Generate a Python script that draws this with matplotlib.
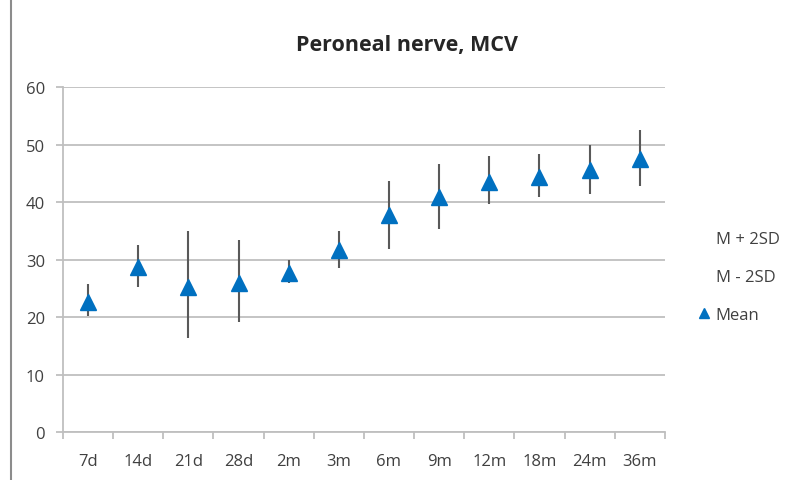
import numpy as np
import matplotlib.pyplot as plt
from matplotlib.lines import Line2D
from matplotlib.patches import Rectangle

plt.rcParams['font.family'] = ['Open Sans', 'DejaVu Sans']

# data
categories = ['7d', '14d', '21d', '28d', '2m', '3m', '6m', '9m', '12m', '18m', '24m', '36m']
mean = [22.7, 28.7, 25.3, 26.0, 27.6, 31.7, 37.7, 40.9, 43.5, 44.3, 45.5, 47.5]
upper = [25.7, 32.5, 34.9, 33.4, 30.0, 35.0, 43.7, 46.6, 48.1, 48.3, 49.9, 52.6]
lower = [20.2, 25.2, 16.3, 19.1, 25.9, 28.6, 31.8, 35.4, 39.7, 40.8, 41.4, 42.8]

fig = plt.figure(figsize=(7.94, 4.81), dpi=100)
ax = fig.add_axes([0.0793, 0.0998, 0.758, 0.717])

x = np.arange(len(categories)) + 0.5

# high-low lines (M-2SD .. M+2SD)
ax.vlines(x, lower, upper, color='#595959', lw=1.5, zorder=2)
ax.plot(x, mean, linestyle='none', marker='^', markersize=11,
        color='#0070C0', zorder=3)

ax.set_xlim(0, len(categories))
ax.set_ylim(0, 60)
ax.set_yticks(np.arange(0, 61, 10))
ax.yaxis.grid(True, color='#bfbfbf', lw=1.3)
ax.set_axisbelow(True)

ax.set_xticks(np.arange(0, len(categories) + 1))
ax.set_xticklabels([])
ax.set_xticks(x, minor=True)
ax.set_xticklabels(categories, minor=True)
ax.tick_params(axis='x', which='major', length=5, color='#bfbfbf', width=1.3)
ax.tick_params(axis='x', which='minor', length=0, pad=15, labelsize=12, labelcolor='#404040')
ax.tick_params(axis='y', length=5, color='#bfbfbf', width=1.3, labelsize=12,
               labelcolor='#404040', pad=8)

for s in ['top', 'right']:
    ax.spines[s].set_visible(False)
ax.spines['left'].set_color('#bfbfbf')
ax.spines['bottom'].set_color('#bfbfbf')
ax.spines['left'].set_linewidth(1.3)
ax.spines['bottom'].set_linewidth(1.3)

fig.text(0.512, 0.905, 'Peroneal nerve, MCV', ha='center', va='center',
         fontsize=15.5, fontweight='bold', color='#262626')

handles = [Line2D([], [], linestyle='none'),
           Line2D([], [], linestyle='none'),
           Line2D([], [], linestyle='none', marker='^', color='#0070C0', markersize=7)]
fig.legend(handles, ['M + 2SD', 'M - 2SD', 'Mean'], loc='center left',
           bbox_to_anchor=(0.869, 0.422), frameon=False, fontsize=12,
           handlelength=0.7, handletextpad=0.35, labelspacing=1.3,
           labelcolor='#404040', borderpad=0)

# outer chart border (left edge visible in reference)
fig.patches.append(Rectangle((0.014, -0.02), 1.2, 1.2, transform=fig.transFigure,
                             fill=False, edgecolor='#8c8c8c', lw=1.5))

fig.savefig('out.png', dpi=100)
